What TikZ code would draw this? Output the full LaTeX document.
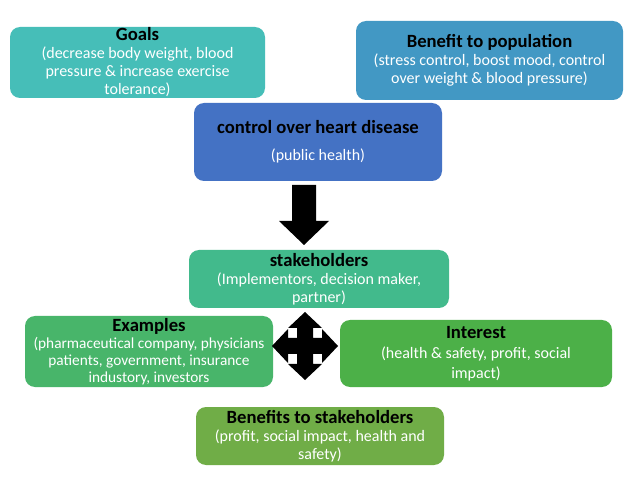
\documentclass[tikz,border=0pt]{standalone}
\usepackage{fontspec}
\setmainfont{Carlito}
\definecolor{goalc}{HTML}{46BEB8}
\definecolor{popc}{HTML}{4298C4}
\definecolor{heartc}{HTML}{4472C4}
\definecolor{stakec}{HTML}{42BA8C}
\definecolor{exc}{HTML}{48B56A}
\definecolor{intc}{HTML}{4CB048}
\definecolor{benc}{HTML}{70AD47}
\begin{document}
\begin{tikzpicture}[x=0.75pt,y=-0.75pt,
  box/.style={rounded corners=7.5pt, align=center, text=white, inner sep=0pt,
    font=\fontsize{12}{13.5}\selectfont},
]
\newcommand\ttl[1]{{\fontsize{14}{13.5}\selectfont\bfseries\color{black}#1}}
\useasboundingbox (0,0) rectangle (644,492);
\fill[white] (0,0) rectangle (644,492);

\node[box, fill=goalc, minimum width={255*0.75pt}, minimum height={71*0.75pt}] (goals) at (137.5,62.5)
  {\ttl{Goals}\\(decrease body weight, blood\\pressure \& increase exercise\\tolerance)};
\node[box, fill=popc, minimum width={267*0.75pt}, minimum height={79*0.75pt}] (pop) at (489.5,60.5)
  {\ttl{Benefit to population}\\(stress control, boost mood, control\\over weight \& blood pressure)};
\node[box, fill=heartc, minimum width={248*0.75pt}, minimum height={78*0.75pt}] (heart) at (318,142)
  {\ttl{control over heart disease}\\[7pt](public health)};
\node[box, fill=stakec, minimum width={260*0.75pt}, minimum height={58*0.75pt}] (stake) at (319,279)
  {\ttl{stakeholders}\\(Implementors, decision maker,\\partner)};
\node[box, fill=exc, minimum width={248*0.75pt}, minimum height={71*0.75pt},
  font=\fontsize{11.5}{12.8}\selectfont] (ex) at (149,351.5)
  {\ttl{Examples}\\(pharmaceutical company, physicians\\patients, government, insurance\\industory, investors};
\node[box, fill=intc, minimum width={272*0.75pt}, minimum height={67*0.75pt},
  font=\fontsize{12}{14.5}\selectfont] (int) at (476,353.5)
  {\ttl{Interest}\\[1pt](health \& safety, profit, social\\impact)};
\node[box, fill=benc, minimum width={248*0.75pt}, minimum height={58*0.75pt}] (ben) at (320,436)
  {\ttl{Benefits to stakeholders}\\(profit, social impact, health and\\safety)};

% down block arrow
\coordinate (dtip) at (304,245);
\fill[black] (292,185) -- (316,185) -- (316,221) -- (329,221) -- (dtip) -- (279,221) -- (292,221) -- cycle;

% four-way arrow
\coordinate (quad) at (305,346);
\fill[black, shift={(quad)}]
  (0,-34) -- (17,-18) -- (8,-18) -- (8,-8) -- (17,-8) -- (17,-17) -- (33,0) -- (17,17) -- (17,8)
  -- (8,8) -- (8,18) -- (17,18) -- (0,34) -- (-17,18) -- (-8,18) -- (-8,8) -- (-17,8) -- (-17,17)
  -- (-33,0) -- (-17,-17) -- (-17,-8) -- (-8,-8) -- (-8,-18) -- (-17,-18) -- cycle;
\end{tikzpicture}
\end{document}
